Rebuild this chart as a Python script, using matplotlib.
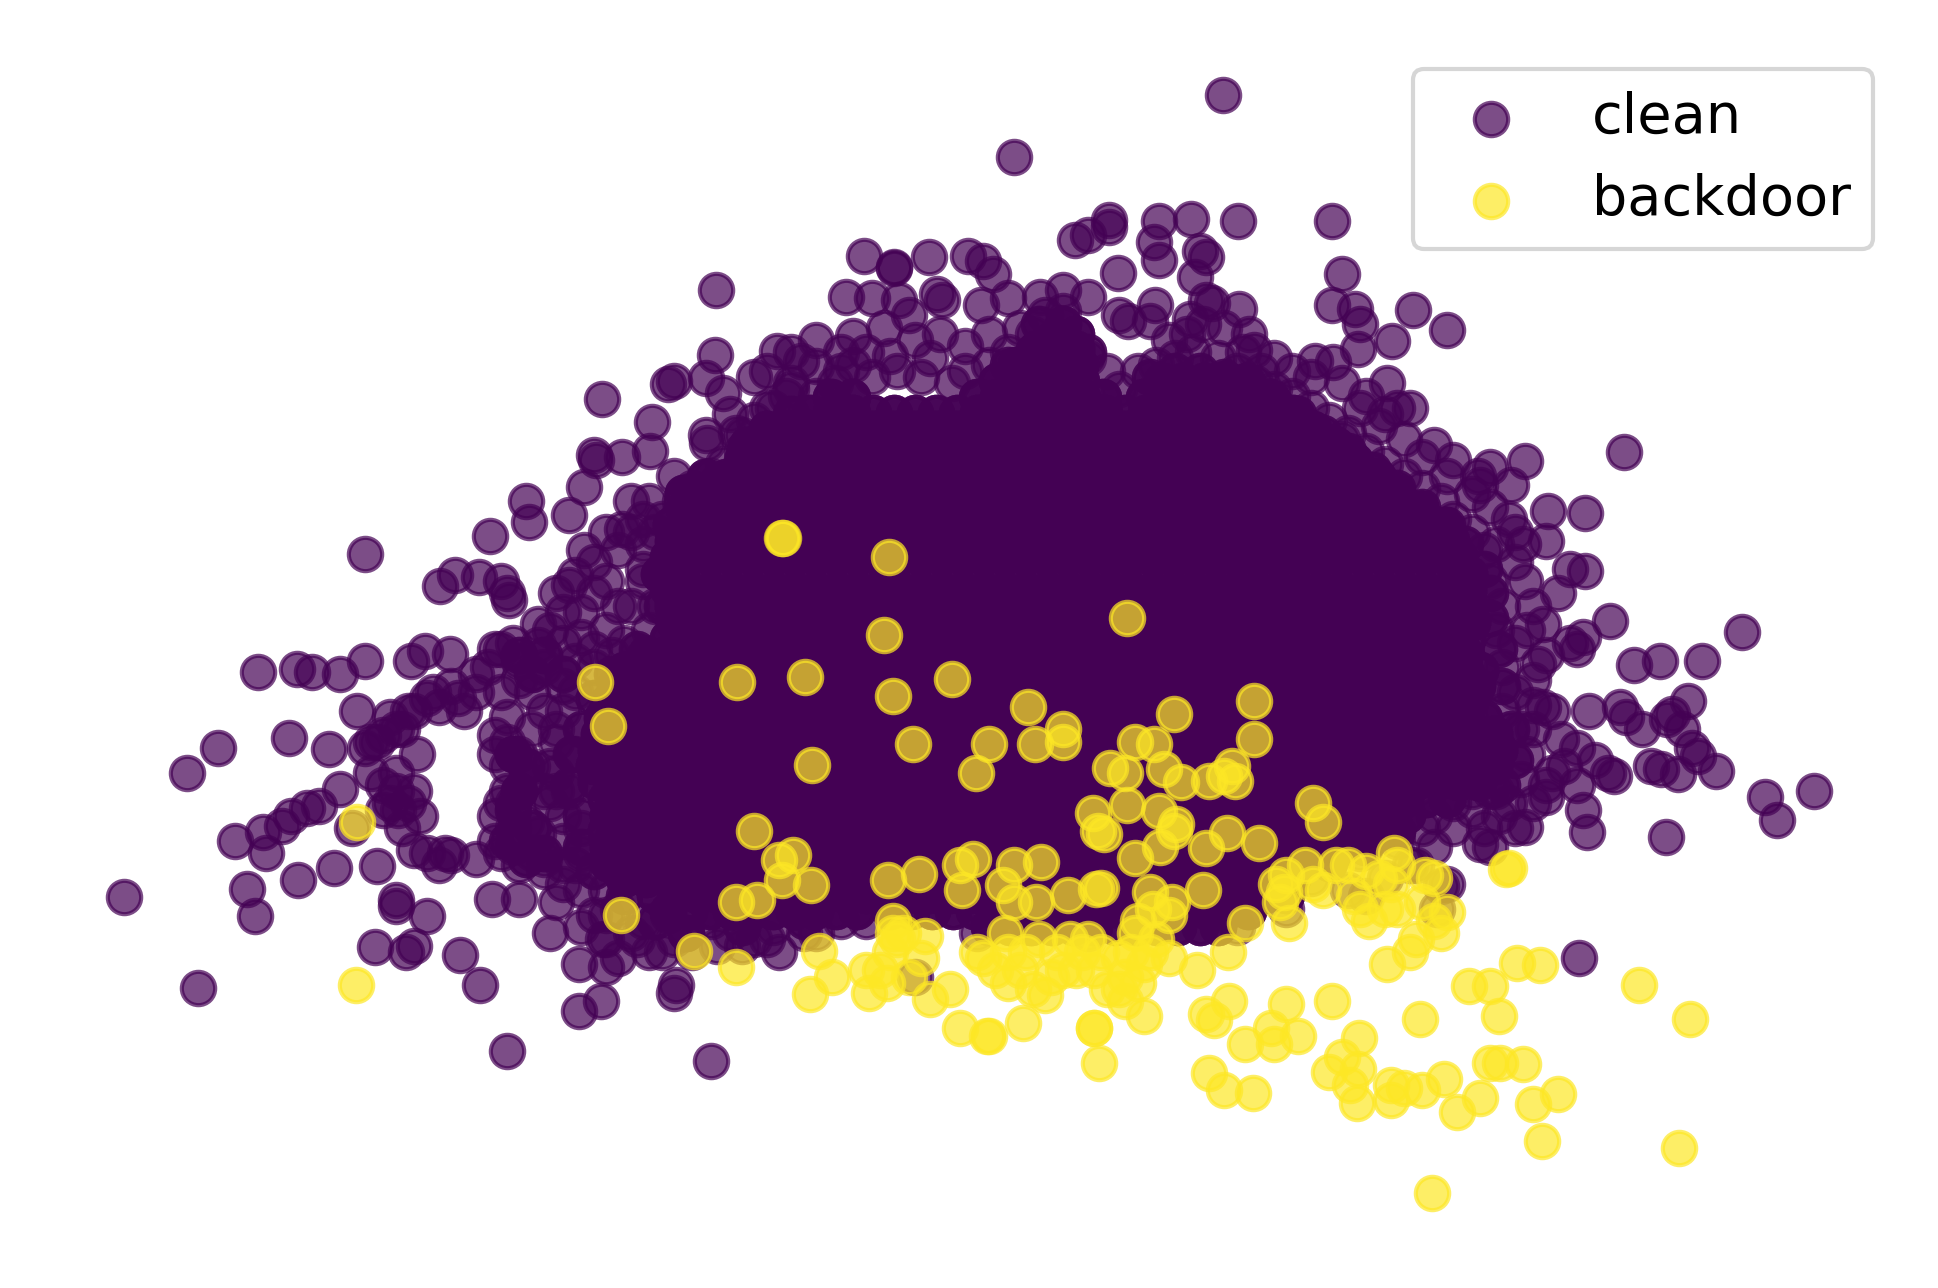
import matplotlib
matplotlib.use("Agg")
import matplotlib.pyplot as plt

# Values; the plane is unitless (embedding coordinates).
clean_sparse = [
(989,77),(820,127),(897,178),(897,184),(869,194),(880,190),(937,179),(963,177),(1001,179),(1077,179),(933,196),(937,210),(970,203),(975,208),(904,221),(966,224),(1085,222),(699,207),(723,216),(723,217),(751,208),(783,207),(795,211),(803,222),(579,235),(684,240),(705,241),(727,243),(758,238),(762,243),(793,247),(815,241),(841,240),(860,252),(905,255),(912,260),(934,247),(962,258),(975,243),(980,245),(1002,250),(1077,247),(1096,250),(1100,262),(1143,251),(1170,267),(1126,276),(1098,282),(1063,292),(1078,293),(1010,270),(1014,283),(1020,300),(973,262),(690,272),(740,275),(752,290),(720,288),(628,284),(648,292),(578,287),(660,296),(571,306),(585,318),(545,308),(540,311),(487,323),(527,341),(480,368),(482,372),(503,370),(526,365),(571,352),(572,358),(600,352),(620,330),(636,320),(1122,310),(1130,330),(1120,335),(1140,330),(1100,330),(1085,355),(1160,360),(1175,372),(1195,385),(1205,378),(1233,373),(1313,366),(1197,392),(1222,392),(1252,413),(1282,415),(1225,430),(1232,440),(1250,438),(1270,460),(1282,462),(1233,470),(1260,480),(1302,502),(1280,515),(1270,520),(1248,505),(1275,525),(1244,537),(1321,538),(1342,535),(1376,535),(1409,511),(1240,570),(1248,572),(1285,575),(1310,572),(1315,580),(1352,578),(1365,567),(1328,590),(1348,582),(1360,590),(1368,605),(1373,612),(1240,590),(1262,598),(1275,605),(1300,625),(1290,615),(1250,635),(1335,620),(1357,626),(1388,624),(1343,622),(1305,628),(1427,645),(1467,640),(1437,663),(1347,677),(1283,673),(1280,655),(1233,669),(1205,685),(1197,683),(1200,670),(1212,660),(1250,645),(1160,660),(1150,670),(1277,775),(1165,717),(1162,735),
(295,448),(356,474),(368,465),(387,467),(405,470),(410,480),(412,485),(209,544),(240,541),(252,544),(275,545),(295,535),(332,535),(344,527),(364,529),(176,605),(151,625),(234,597),(266,606),(289,575),(275,638),(190,680),(213,673),(215,690),(235,660),(248,654),(228,668),(258,652),(285,670),(270,702),(241,712),(305,701),(200,719),(206,741),(100,726),(160,799),(303,766),(328,770),(335,765),(345,741),(320,728),(320,733),(372,773),(388,797),(410,850),(468,818),(486,810),(545,803),(547,797),(575,858),(445,755),(468,780),(490,782),(488,760),(398,727),(420,727),(455,715),(450,730),(360,690),(365,692),(335,688),(385,695),(405,690),(430,690),(440,695),(300,600),(310,595),(325,590),(315,580),(335,575),(355,572),(370,565),(385,560),(350,560),(375,575),(337,610),(310,635),(320,640),(340,660),(325,670),(322,655),(400,610),(415,610),(410,640),(420,640),(440,640),(400,595),(410,580),(400,525),(415,520),(435,522),(455,520),(470,515),(480,525),(440,540),(420,550),(430,560),(455,495),(470,495),(480,480),(480,455),(472,445),(460,473),(425,405),(428,422),(396,434),(460,417),(472,394),(503,428),(510,405),(525,405),(545,385),(520,460),(530,490),(400,660),(415,670),(445,650),(470,690),(455,660),(535,770),(560,770),(545,760),(630,770),(600,765),(520,745),(575,745),(625,750),(680,745),(740,790),(790,755),(430,590),(410,620),(490,720),(480,740),(470,750),(490,740),(500,700),
(1040,735),(1060,710),(1100,690),(1130,680),(1140,700),(1170,715),(1105,725),(1000,750),(880,755),(930,745),
(860,262),(850,275),(870,270),(835,270),(815,285),(800,295),(780,300),(770,310),(745,305),(725,300),(705,305),(690,295),(675,310),(660,320),(640,315),(625,330),(610,340),(595,350),(600,365),(585,375),(575,385),(560,395),(550,405),(535,420),(520,440),(520,470),(510,490),(525,510),(505,520),(495,530),(480,540),(465,560),(455,575),(450,600),(445,620),(450,640),(455,680),(465,700),(470,720),(500,735),(510,755),(525,770),(580,765),(610,760),(650,755),(700,745),
(880,290),(895,300),(905,315),(920,300),(935,295),(950,290),(965,285),(985,290),(1000,300),(1015,310),(1030,315),(1045,320),(1060,330),(1075,340),(1090,350),(1105,365),(1120,375),(1135,385),(1150,395),(1165,405),(1175,420),(1190,430),(1200,445),(1205,470),(1215,490),(1210,510),(1225,520),(1215,540),(1225,560),(1215,575),(1230,590),(1235,610),(1230,630),(1220,650),(1205,640),(1190,655),(1175,670),(1160,685),(1145,700),(1120,710),(1090,720),
(880,240),(860,235),(845,255),(825,265),(800,270),(780,280),(760,270),(735,255),(715,265),(700,285),(680,285),(660,275),(640,285),(610,305),(590,335),(620,300),(640,310),(680,300),
(930,260),(945,275),(960,270),(990,265),(1005,285),(1030,290),(1045,300),(1060,305),(1085,310),(1105,320),(1115,345),(1135,355),(1150,370),(1170,385),(1190,400),(1205,410),(1220,420),(1210,440),(1225,455),(1240,490),(1235,510),(1250,530),(1240,550),(1255,575),(1265,620),(1275,635),(1255,625),(1240,650),(1225,670),(1210,640),(1190,640),(1175,650),
(405,525),(420,535),(395,540),(405,560),(385,545),(365,555),(345,565),(330,575),(320,590),(305,600),(295,605),(410,600),(420,610),(430,620),(425,630),(415,650),(405,650),(425,665),(435,675),(415,685),(400,680),(420,700),(440,705),(455,700),(470,670),(460,640),(450,625),(465,610),(450,590),(440,575),(455,555),(465,535),(445,510),(435,505),(450,480),(465,465),(490,470),(500,490),(490,510),(500,445),(490,430),(510,430),(530,430),(520,420),
(300,625),(315,650),(330,650),(310,655),(345,690),(355,700),(335,640),(320,625),(490,760),(500,775),(515,760),(540,740),(555,755),(590,755),(620,760),(660,755),
]

clean_band = [
(860,262),(850,275),(870,270),(835,285),(815,295),(880,285),(860,285),(840,262),
(930,305),(950,300),(970,300),(990,305),(1010,312),(1030,325),(1050,335),(1070,350),(1090,365),(1110,380),(1130,395),(1150,410),(1170,425),(1185,440),(1200,460),(1205,480),(1205,500),(1212,525),(1215,555),(1222,590),(1225,615),(1215,635),
(640,335),(620,350),(600,372),(580,390),(560,410),(548,430),(540,460),(535,490),(515,525),(495,545),(480,565),(470,590),(462,610),(460,635),(470,660),(470,685),(480,705),(505,725),(530,745),(555,755),(600,750),(650,745),
(420,530),(430,545),(415,610),(425,620),(420,640),(415,655),(430,670),(440,690),(425,695),(410,680),(440,530),(455,545),
]
band_point_multiplicity = 2

clean_core_rows = {
282: [838,855,870],
295: [822,839,856,873],
308: [806,823,840,857,874,940,957,974,991,1008],
321: [672,689,790,807,824,841,858,875,892,925,942,959,976,993,1010,1027],
334: [655,672,689,706,723,740,757,774,791,808,825,842,859,876,893,910,927,944,961,978,995,1012,1029,1046],
347: [620,637,654,671,688,705,722,739,756,773,790,807,824,841,858,875,892,909,926,943,960,977,994,1011,1028,1045,1062],
360: [604,621,638,655,672,689,706,723,740,757,774,791,808,825,842,859,876,893,910,927,944,961,978,995,1012,1029,1046,1063,1080],
373: [603,620,637,654,671,688,705,722,739,756,773,790,807,824,841,858,875,892,909,926,943,960,977,994,1011,1028,1045,1062,1079,1096],
386: [570,587,604,621,638,655,672,689,706,723,740,757,774,791,808,825,842,859,876,893,910,927,944,961,978,995,1012,1029,1046,1063,1080,1097,1114],
399: [552,569,586,603,620,637,654,671,688,705,722,739,756,773,790,807,824,841,858,875,892,909,926,943,960,977,994,1011,1028,1045,1062,1079,1096,1113,1130],
412: [553,570,587,604,621,638,655,672,689,706,723,740,757,774,791,808,825,842,859,876,893,910,927,944,961,978,995,1012,1029,1046,1063,1080,1097,1114,1131,1148],
425: [543,560,577,594,611,628,645,662,679,696,713,730,747,764,781,798,815,832,849,866,883,900,917,934,951,968,985,1002,1019,1036,1053,1070,1087,1104,1121,1138,1155,1168],
438: [544,561,578,595,612,629,646,663,680,697,714,731,748,765,782,799,816,833,850,867,884,901,918,935,952,969,986,1003,1020,1037,1054,1071,1088,1105,1122,1139,1156,1173],
451: [540,557,574,591,608,625,642,659,676,693,710,727,744,761,778,795,812,829,846,863,880,897,914,931,948,965,982,999,1016,1033,1050,1067,1084,1101,1118,1135,1152,1169,1180],
464: [533,550,567,584,601,618,635,652,669,686,703,720,737,754,771,788,805,822,839,856,873,890,907,924,941,958,975,992,1009,1026,1043,1060,1077,1094,1111,1128,1145,1162,1179,1188],
477: [541,558,575,592,609,626,643,660,677,694,711,728,745,762,779,796,813,830,847,864,881,898,915,932,949,966,983,1000,1017,1034,1051,1068,1085,1102,1119,1136,1153,1170,1187],
490: [544,561,578,595,612,629,646,663,680,697,714,731,748,765,782,799,816,833,850,867,884,901,918,935,952,969,986,1003,1020,1037,1054,1071,1088,1105,1122,1139,1156,1173,1188],
503: [545,562,579,596,613,630,647,664,681,698,715,732,749,766,783,800,817,834,851,868,885,902,919,936,953,970,987,1004,1021,1038,1055,1072,1089,1106,1123,1140,1157,1174,1190],
516: [540,557,574,591,608,625,642,659,676,693,710,727,744,761,778,795,812,829,846,863,880,897,914,931,948,965,982,999,1016,1033,1050,1067,1084,1101,1118,1135,1152,1169,1186],
529: [522,539,556,573,590,607,624,641,658,675,692,709,726,743,760,777,794,811,828,845,862,879,896,913,930,947,964,981,998,1015,1032,1049,1066,1083,1100,1117,1134,1151,1168,1185],
542: [505,522,539,556,573,590,607,624,641,658,675,692,709,726,743,760,777,794,811,828,845,862,879,896,913,930,947,964,981,998,1015,1032,1049,1066,1083,1100,1117,1134,1151,1168,1185,1197],
555: [497,514,531,548,565,582,599,616,633,650,667,684,701,718,735,752,769,786,803,820,837,854,871,888,905,922,939,956,973,990,1007,1024,1041,1058,1075,1092,1109,1126,1143,1160,1177,1194],
568: [492,509,526,543,560,577,594,611,628,645,662,679,696,713,730,747,764,781,798,815,832,849,866,883,900,917,934,951,968,985,1002,1019,1036,1053,1070,1087,1104,1121,1138,1155,1172,1189],
581: [487,504,521,538,555,572,589,606,623,640,657,674,691,708,725,742,759,776,793,810,827,844,861,878,895,912,929,946,963,980,997,1014,1031,1048,1065,1082,1099,1116,1133,1150,1167,1184,1200],
594: [484,501,518,535,552,569,586,603,620,637,654,671,688,705,722,739,756,773,790,807,824,841,858,875,892,909,926,943,960,977,994,1011,1028,1045,1062,1079,1096,1113,1130,1147,1164,1181,1198,1208],
607: [482,499,516,533,550,567,584,601,618,635,652,669,686,703,720,737,754,771,788,805,822,839,856,873,890,907,924,941,958,975,992,1009,1026,1043,1060,1077,1094,1111,1128,1145,1162,1179,1196,1212],
620: [480,497,514,531,548,565,582,599,616,633,650,667,684,701,718,735,752,769,786,803,820,837,854,871,888,905,922,939,956,973,990,1007,1024,1041,1058,1075,1092,1109,1126,1143,1160,1177,1194,1208],
633: [482,499,516,533,550,567,584,601,618,635,652,669,686,703,720,737,754,771,788,805,822,839,856,873,890,907,924,941,958,975,992,1009,1026,1043,1060,1077,1094,1111,1128,1145,1162,1179,1195],
646: [490,507,524,541,558,575,592,609,626,643,660,677,694,711,728,745,762,779,796,813,830,847,864,881,898,915,932,949,966,983,1000,1017,1034,1051,1068,1085,1102,1119,1136,1153,1170],
659: [492,509,526,543,560,577,594,611,628,645,662,679,696,713,730,747,764,781,798,815,832,849,866,883,900,917,934,951,968,985,1002,1019,1036,1053,1070,1087,1104,1121,1138],
672: [490,507,524,541,558,575,592,609,626,643,660,677,694,711,728,745,762,779,796,813,830,847,864,881,898,915,932,949,966,983,1000,1017,1034,1051,1068,1085,1102,1119,1130],
685: [492,509,526,543,560,577,594,611,628,645,662,679,696,713,730,747,764,781,798,815,832,849,866,883,900,917,934,951,968,985,1002,1019,1036,1053,1070,1087,1104],
698: [492,509,526,543,560,577,594,611,628,645,662,679,696,713,730,747,764,781,798,815,832,849,866,883,900,917,934,951,968,985,1002,1019,1036,1053,1075],
711: [505,522,539,556,573,590,607,624,641,658,675,692,709,726,743,760,777,794,811,828,845,862,879,896,913,930,947,964,981,998,1015,1032,1045],
724: [530,547,564,581,598,615,632,649,666,683,700,717,734,751,768,785,802,819,836,853,870,887,904,921,938,955,972,989,1006,1023,1040],
737: [540,557,574,591,608,625,642,659,676,693,720,737,754,771,788,805,822,839,856,873,890,907,924,941,958,975,992,1009],
750: [800,817,834,851,868,885,902,919,936,953,970,985],
}
core_point_multiplicity = 3  # the core is saturated: many points share each spot

backdoor = [
(632,435),(633,435),(719,451),(911,500),(715,514),(481,552),(596,552),(651,548),(770,549),(722,563),(492,587),(831,572),(860,590),(837,602),(860,600),(949,578),(1014,567),(1014,598),(738,602),(800,602),(657,619),(789,625),(918,600),(933,602),(898,621),(910,625),(941,622),(955,633),(978,632),(990,628),(996,620),(999,632),(911,651),(884,658),(893,675),(888,672),(937,656),(951,667),(949,672),(938,685),(918,694),(975,686),(992,674),(1018,682),(1062,650),(1070,665),(610,672),(641,692),(630,696),(632,712),(656,716),(595,730),(612,728),(502,740),(561,769),(595,782),(662,769),(718,712),(743,707),(776,700),(787,695),(778,720),(820,700),(842,697),(811,716),(820,730),(838,730),(864,724),(886,719),(890,718),(930,722),(932,735),(948,730),(945,740),(973,720),(1007,747),(1032,715),(1038,722),(1042,747),(1035,730),(1040,708),(1055,700),(1062,715),(1070,720),(1090,700),(1105,705),(1127,690),(1115,710),(1130,735),(1120,735),(1095,725),(1107,745),(1152,708),(1160,710),(1218,703),(1220,702),(1170,738),(1160,745),(1165,755),(1145,760),(1140,770),(1122,780),(993,770),(968,785),(994,810),(975,820),(982,825),(1040,812),(1077,810),(1028,832),(1007,845),(1030,845),(1050,838),(1148,824),(1188,798),(1205,798),(1227,779),(1245,781),(1212,822),(1325,797),(1367,824),(1099,840),(1085,855),(1075,867),(1098,865),(1092,878),(1097,892),(1125,890),(1125,878),(1135,880),(1150,882),(1168,873),(1178,900),(1197,888),(1205,860),(1213,860),(1232,861),(1260,885),(1240,893),(1247,923),(1358,929),(1158,965),(978,868),(990,882),(1013,884),(885,832),(885,832),(889,860),(925,822),(827,828),(800,838),(798,838),(776,832),(752,808),(768,800),(655,804),(673,790),(703,803),(712,785),(717,795),(735,790),(722,755),(730,755),(748,757),(722,745),(725,760),(795,775),(813,755),(815,770),(825,785),(830,770),(835,800),(845,805),(860,785),(865,760),(875,770),(885,785),(890,770),(905,800),(910,810),(918,755),(915,770),(925,780),(930,770),(920,795),(288,797),(289,665),
(700,785),(720,770),(745,775),(790,770),(805,785),(840,760),(855,770),(870,785),(880,760),(905,775),(920,745),(935,760),(945,775),(910,790),(895,800),(850,790),(815,795),(1080,700),(1100,735),(1125,715),(1150,730),(1130,700),
]

labels = ["clean", "backdoor"]

clean_x = [p[0] for p in clean_sparse]
clean_y = [p[1] for p in clean_sparse]
clean_x.extend([p[0] for p in clean_band] * band_point_multiplicity)
clean_y.extend([p[1] for p in clean_band] * band_point_multiplicity)
for row_y, row_x in clean_core_rows.items():
    clean_x.extend(row_x * core_point_multiplicity)
    clean_y.extend([row_y] * (len(row_x) * core_point_multiplicity))

fig = plt.figure(figsize=(1939 / 300, 1288 / 300), dpi=300)
ax = fig.add_axes([0, 0, 1, 1])
cmap = plt.get_cmap("viridis")
ax.scatter(clean_x, clean_y, s=64, color=cmap(0.0), alpha=0.7, label=labels[0])
ax.scatter([p[0] for p in backdoor], [p[1] for p in backdoor], s=64, color=cmap(1.0), alpha=0.7, label=labels[1])
ax.set_xlim(0, 1568)
ax.set_ylim(1042, 0)
ax.axis("off")
ax.legend(loc="upper right", bbox_to_anchor=(0.9660, 0.9465), bbox_transform=ax.transAxes,
          borderaxespad=0, fontsize=13.4)
fig.savefig("out.png", dpi=300)
